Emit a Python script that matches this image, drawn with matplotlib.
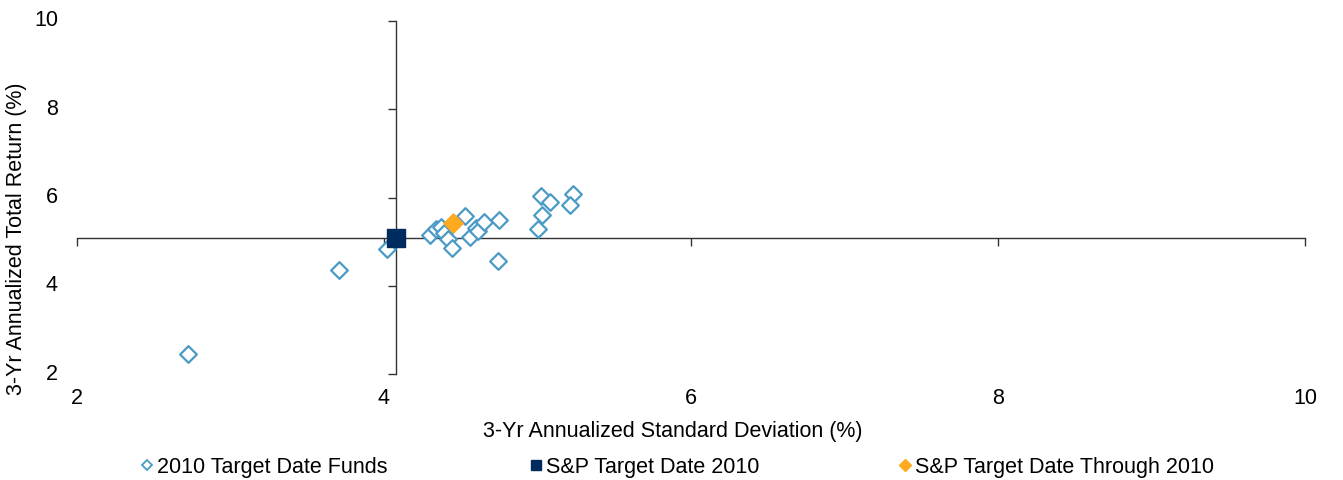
import matplotlib
matplotlib.use("Agg")
import matplotlib.pyplot as plt
from matplotlib.lines import Line2D
from matplotlib.transforms import blended_transform_factory

plt.rcParams['font.family'] = ['Liberation Sans', 'DejaVu Sans']

# Data
funds_sd = [2.72, 3.71, 4.02, 4.30, 4.34, 4.37, 4.39, 4.42, 4.44, 4.53, 4.56, 4.60,
            4.61, 4.65, 4.75, 4.74, 5.02, 5.08, 5.23, 5.21, 5.03, 5.00]
funds_ret = [2.45, 4.36, 4.83, 5.15, 5.28, 5.34, 5.19, 5.05, 4.85, 5.57, 5.11, 5.30,
             5.23, 5.45, 5.49, 4.57, 6.04, 5.89, 6.09, 5.84, 5.61, 5.28]
sp2010_sd = [4.075]
sp2010_ret = [5.09]
spthru_sd = [4.45]
spthru_ret = [5.42]

xticks = [2, 4, 6, 8, 10]
yticks = [2, 4, 6, 8, 10]

W, H = 1343, 480
fig = plt.figure(figsize=(W / 100, H / 100), dpi=100)
ax = fig.add_axes([77 / W, 1 - 374 / H, (1305 - 77) / W, (374 - 21) / H])

c_fund = '#4A9AC6'
c_sp = '#002B5E'
c_thru = '#FDAA1E'
c_axis = '#333333'

ax.scatter(funds_sd, funds_ret, marker='D', s=8.5 ** 2, facecolors='white',
           edgecolors=c_fund, linewidths=1.6, zorder=3)
ax.scatter(sp2010_sd, sp2010_ret, marker='s', s=13.5 ** 2, color=c_sp, zorder=4)
ax.scatter(spthru_sd, spthru_ret, marker='D', s=9.8 ** 2, color=c_thru, zorder=5)

ax.set_xlim(2, 10)
ax.set_ylim(2, 10)
for s in ['top', 'right']:
    ax.spines[s].set_visible(False)
ax.spines['left'].set_position(('data', sp2010_sd[0]))
ax.spines['bottom'].set_position(('data', sp2010_ret[0]))
for s in ['left', 'bottom']:
    ax.spines[s].set_color(c_axis)
    ax.spines[s].set_linewidth(1.0)
ax.set_xticks(xticks)
ax.set_yticks(yticks)
ax.tick_params(axis='both', length=6, width=1.0, color=c_axis, direction='out',
               labelbottom=False, labelleft=False)

fs = 15.5
tx = blended_transform_factory(ax.transData, ax.transAxes)
for t in xticks:
    ax.text(t, -24 / (374 - 21), str(t), transform=tx, ha='center', va='center',
            fontsize=fs, color='#000000')
ty = blended_transform_factory(ax.transAxes, ax.transData)
for t in yticks:
    ax.text(-19 / (1305 - 77), t, str(t), transform=ty, ha='right', va='center',
            fontsize=fs, color='#000000')

fig.text(673 / W, 1 - 431 / H, '3-Yr Annualized Standard Deviation (%)',
         ha='center', va='center', fontsize=fs)
fig.text(17 / W, 1 - 239 / H, '3-Yr Annualized Total Return (%)',
         ha='center', va='center', rotation=90, fontsize=fs)

handles = [
    (Line2D([], [], marker='D', ls='none', ms=5.5, mfc='white', mec=c_fund, mew=1.3),
     '2010 Target Date Funds', 141),
    (Line2D([], [], marker='s', ls='none', ms=7.5, color=c_sp),
     'S&P Target Date 2010', 530),
    (Line2D([], [], marker='D', ls='none', ms=6.5, color=c_thru),
     'S&P Target Date Through 2010', 899),
]
for h, lab, xp in handles:
    fig.legend([h], [lab], loc='center left', bbox_to_anchor=(xp / W, 1 - 467 / H),
               frameon=False, fontsize=fs, handlelength=0.55, handletextpad=0.2,
               borderpad=0, borderaxespad=0)

fig.savefig('out.png', dpi=100)
